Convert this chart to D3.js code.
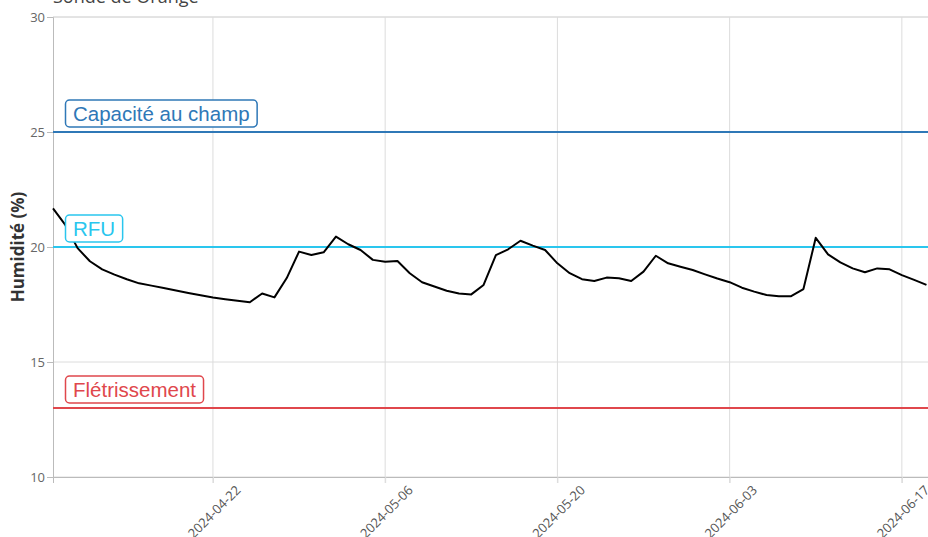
<!DOCTYPE html>
<html>
<head>
<meta charset="utf-8">
<script src="https://cdn.jsdelivr.net/npm/d3@7"></script>
<style>
  body { margin: 0; overflow: hidden; background: #fff; }
  svg { display: block; }
</style>
</head>
<body>
<div id="chart"></div>
<script>
var width = 928, height = 537;
var margin = {top: 17, right: 0, bottom: 60, left: 53};

// daily readings, starting 2024-04-09
var startDate = "2024-04-09";
var humidite = [
  21.68, 20.96, 19.95, 19.38, 19.03, 18.8, 18.6, 18.42, 18.32, 18.22,
  18.11, 18.0, 17.9, 17.8, 17.73, 17.66, 17.6, 17.98, 17.81, 18.65,
  19.8, 19.65, 19.77, 20.45, 20.12, 19.87, 19.44, 19.36, 19.39, 18.86,
  18.47, 18.28, 18.1, 17.98, 17.94, 18.35, 19.65, 19.9, 20.27, 20.06,
  19.87, 19.29, 18.86, 18.6, 18.52, 18.67, 18.64, 18.52, 18.93, 19.62,
  19.29, 19.14, 19.0, 18.81, 18.63, 18.47, 18.23, 18.06, 17.91, 17.86,
  17.86, 18.17, 20.4, 19.68, 19.33, 19.07, 18.9, 19.07, 19.03, 18.78,
  18.57, 18.35
];
var seuils = [
  {nom: "Capacité au champ", valeur: 25, couleur: "#2f78b7"},
  {nom: "RFU", valeur: 20, couleur: "#2ac6ee"},
  {nom: "Flétrissement", valeur: 13, couleur: "#e0474c"}
];
var yTicks = [10, 15, 20, 25, 30];
var xTicks = ["2024-04-22", "2024-05-06", "2024-05-20", "2024-06-03", "2024-06-17"];

var parse = d3.utcParse("%Y-%m-%d");
var t0 = parse(startDate);
var data = humidite.map(function(v, i) {
  return {date: d3.utcDay.offset(t0, i), value: v};
});

var svg = d3.select("#chart").append("svg")
  .attr("width", width)
  .attr("height", height);

var x = d3.scaleUtc()
  .domain([t0, new Date(Date.UTC(2024, 5, 19, 3))])
  .range([margin.left, width - margin.right]);

var y = d3.scaleLinear()
  .domain([10, 30])
  .range([height - margin.bottom, margin.top]);

// title (cut at the top, as in the original)
svg.append("text")
  .attr("x", 53)
  .attr("y", 3)
  .attr("font-family", "Open Sans, sans-serif")
  .attr("font-size", "18px")
  .attr("fill", "#444")
  .text("Sonde de Orange");

// grid
svg.append("g").selectAll("line").data(yTicks)
  .enter().append("line")
  .attr("x1", margin.left).attr("x2", width)
  .attr("y1", function(d) { return y(d); })
  .attr("y2", function(d) { return y(d); })
  .attr("stroke", function(d) { return d == 30 ? "#c8c8c8" : "#dcdcdc"; })
  .attr("stroke-width", 1);

svg.append("g").selectAll("line").data(xTicks)
  .enter().append("line")
  .attr("x1", function(d) { return x(parse(d)); })
  .attr("x2", function(d) { return x(parse(d)); })
  .attr("y1", margin.top)
  .attr("y2", height - margin.bottom + 6)
  .attr("stroke", "#dcdcdc")
  .attr("stroke-width", 1);

// y axis
var yAxis = svg.append("g")
  .attr("transform", "translate(" + margin.left + ",0)")
  .call(d3.axisLeft(y).tickValues(yTicks).tickSize(6).tickPadding(2));
yAxis.select(".domain").attr("stroke", "#bbb");
yAxis.selectAll(".tick line").attr("stroke", "#bbb");
yAxis.selectAll("text")
  .attr("fill", "#666")
  .attr("font-family", "Open Sans, sans-serif")
  .attr("font-size", "13px");

// x axis
var xAxis = svg.append("g")
  .attr("transform", "translate(0," + (height - margin.bottom) + ")")
  .call(d3.axisBottom(x).tickValues(xTicks.map(parse)).tickSize(6)
    .tickFormat(d3.utcFormat("%Y-%m-%d")));
xAxis.select(".domain").attr("stroke", "#bbb");
xAxis.selectAll(".tick line").attr("stroke", "#dcdcdc");
xAxis.selectAll("text")
  .attr("fill", "#555")
  .attr("font-family", "Open Sans, sans-serif")
  .attr("font-size", "13px")
  .attr("y", 0).attr("dy", 0)
  .attr("text-anchor", "end")
  .attr("transform", "translate(28,14) rotate(-45)");

// y label
svg.append("text")
  .attr("transform", "translate(24," + y(20) + ") rotate(-90)")
  .attr("text-anchor", "middle")
  .attr("font-family", "Open Sans, sans-serif")
  .attr("font-weight", "bold")
  .attr("font-size", "17px")
  .attr("fill", "#333")
  .text("Humidité (%)");

// threshold lines
svg.append("g").selectAll("line").data(seuils)
  .enter().append("line")
  .attr("x1", margin.left).attr("x2", width)
  .attr("y1", function(d) { return y(d.valeur); })
  .attr("y2", function(d) { return y(d.valeur); })
  .attr("stroke", function(d) { return d.couleur; })
  .attr("stroke-width", 2);

// humidity line
var line = d3.line()
  .x(function(d) { return x(d.date); })
  .y(function(d) { return y(d.value); });

svg.append("path")
  .datum(data)
  .attr("fill", "none")
  .attr("stroke", "#000")
  .attr("stroke-width", 2)
  .attr("stroke-linejoin", "round")
  .attr("d", line);

// threshold labels
var lab = svg.append("g").selectAll("g").data(seuils)
  .enter().append("g");

lab.each(function(d) {
  var g = d3.select(this);
  var base = y(d.valeur) - 11;
  var txt = g.append("text")
    .attr("x", 73)
    .attr("y", base)
    .attr("font-family", "Liberation Sans, Arial, sans-serif")
    .attr("font-size", "20.5px")
    .attr("fill", d.couleur)
    .text(d.nom);
  var w = txt.node().getComputedTextLength();
  g.insert("rect", "text")
    .attr("x", 65.5)
    .attr("y", base - 21)
    .attr("width", w + 15)
    .attr("height", 27)
    .attr("rx", 4).attr("ry", 4)
    .attr("fill", "#fff")
    .attr("stroke", d.couleur)
    .attr("stroke-width", 1.5);
});
</script>
</body>
</html>
